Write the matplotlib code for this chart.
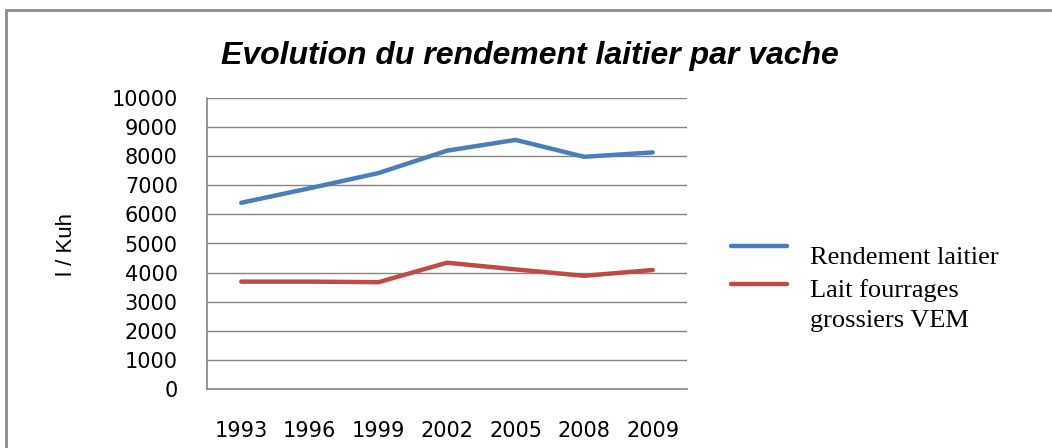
import matplotlib.pyplot as plt
from matplotlib.lines import Line2D
from matplotlib.patches import Rectangle

# Data
years = ['1993', '1996', '1999', '2002', '2005', '2008', '2009']
rendement_laitier = [6400, 6900, 7420, 8190, 8560, 7980, 8130]
lait_fourrages = [3690, 3690, 3670, 4340, 4110, 3890, 4090]
y_ticks = [0, 1000, 2000, 3000, 4000, 5000, 6000, 7000, 8000, 9000, 10000]

blue = '#4A7EBB'
red = '#BE4B48'
grid_grey = '#868686'

W, H = 1052, 448
fig = plt.figure(figsize=(W / 100, H / 100), dpi=100)
ax = fig.add_axes([207 / W, 1 - 389 / H, 480 / W, 291 / H])

x = list(range(len(years)))
ax.plot(x, rendement_laitier, color=blue, lw=3.2, solid_capstyle='round')
ax.plot(x, lait_fourrages, color=red, lw=3.2, solid_capstyle='round')

ax.set_xlim(-0.5, len(years) - 0.5)
ax.set_ylim(0, 10000)
ax.set_yticks(y_ticks)
ax.set_yticklabels([str(v) for v in y_ticks], fontsize=15, family='DejaVu Sans')
ax.set_xticks(x)
ax.set_xticklabels(years, fontsize=15, family='DejaVu Sans')
ax.tick_params(axis='y', length=0, pad=21)
ax.tick_params(axis='x', length=0, pad=23)
ax.grid(axis='y', color=grid_grey, lw=1)
ax.set_axisbelow(True)
for s in ['top', 'right']:
    ax.spines[s].set_visible(False)
for s in ['left', 'bottom']:
    ax.spines[s].set_color(grid_grey)
    ax.spines[s].set_linewidth(1.2)

fig.text(66 / W, 1 - 245 / H, 'l / Kuh', rotation=90, ha='center', va='center',
         fontsize=16, family='Liberation Sans')

fig.text(530 / W, 1 - 64 / H, 'Evolution du rendement laitier par vache',
         ha='center', va='baseline', fontsize=23, fontweight='bold',
         fontstyle='italic', family='Liberation Sans')

# legend drawn by hand to keep the handles on the first text line
fig.add_artist(Line2D([731 / W, 787 / W], [1 - 246 / H] * 2, color=blue, lw=3.2,
                      solid_capstyle='round'))
fig.add_artist(Line2D([731 / W, 787 / W], [1 - 284 / H] * 2, color=red, lw=3.2,
                      solid_capstyle='round'))
fig.text(810 / W, 1 - 264 / H, 'Rendement laitier', va='baseline',
         fontsize=19, family='Liberation Serif')
fig.text(810 / W, 1 - 297 / H, 'Lait fourrages', va='baseline',
         fontsize=19, family='Liberation Serif')
fig.text(810 / W, 1 - 327 / H, 'grossiers VEM', va='baseline',
         fontsize=19, family='Liberation Serif')

# outer frame of the chart box
fig.add_artist(Rectangle((6 / W, -0.1), 1.2, 1 - 10 / H + 0.1, fill=False,
                         edgecolor='#8C8C8C', lw=2))

fig.savefig('out.png', dpi=100)
